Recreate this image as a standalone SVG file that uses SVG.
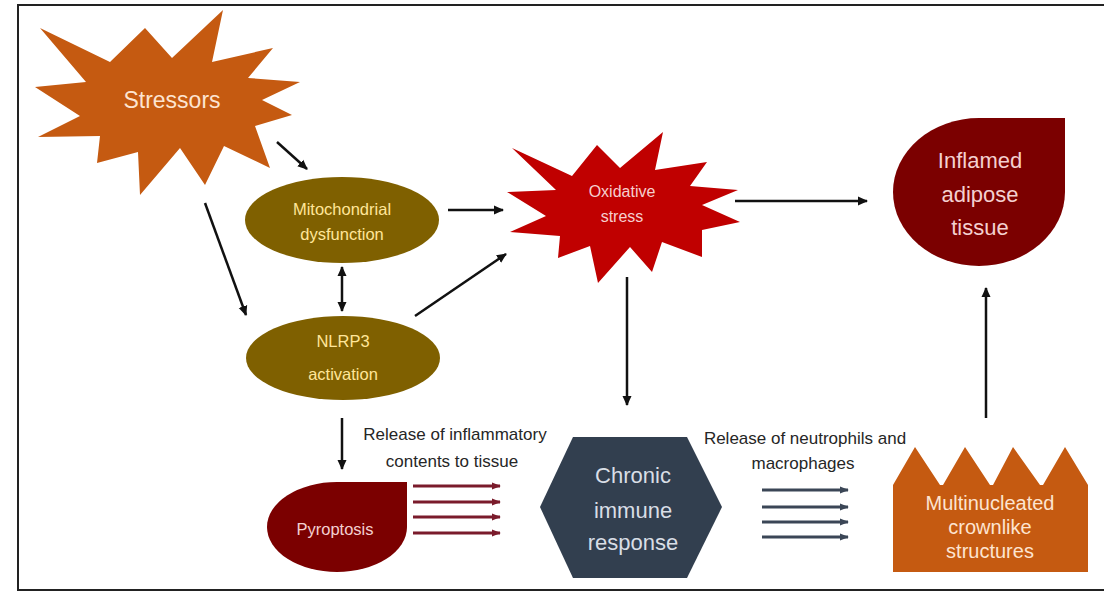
<svg xmlns="http://www.w3.org/2000/svg" width="1104" height="591" viewBox="0 0 1104 591">
<style>
  text { font-family: "Liberation Sans", Arial, sans-serif; text-anchor: middle; }
  .conn { stroke: #111; stroke-width: 2.5; fill: none; marker-end: url(#ah); }
  .red { stroke: #7a1b2b; stroke-width: 3; fill: none; marker-end: url(#ahr); }
  .slate { stroke: #3b4656; stroke-width: 3; fill: none; marker-end: url(#ahs); }
  .lbl { fill: #262626; font-size: 17px; }
  .peach { fill: #fde4d0; }
  .gold { fill: #ffe699; }
</style>
<defs>
  <marker id="ah" viewBox="0 0 10 10" refX="9" refY="5" markerWidth="10" markerHeight="10" markerUnits="userSpaceOnUse" orient="auto-start-reverse">
    <path d="M0,0.5 L10,5 L0,9.5 Z" fill="#111"/>
  </marker>
  <marker id="ahr" viewBox="0 0 10 10" refX="9" refY="5" markerWidth="9" markerHeight="9" markerUnits="userSpaceOnUse" orient="auto">
    <path d="M0,1 L10,5 L0,9 Z" fill="#7a1b2b"/>
  </marker>
  <marker id="ahs" viewBox="0 0 10 10" refX="9" refY="5" markerWidth="9" markerHeight="9" markerUnits="userSpaceOnUse" orient="auto">
    <path d="M0,1 L10,5 L0,9 Z" fill="#3b4656"/>
  </marker>
</defs>
<rect x="0" y="0" width="1104" height="591" fill="#ffffff"/>
<path d="M1104,5 L18,5 L18,590 L1104,590" fill="none" stroke="#222" stroke-width="2"/>

<g id="connectors">
  <line class="conn" x1="277" y1="142" x2="307" y2="169"/>
  <line class="conn" x1="205" y1="203" x2="246" y2="315"/>
  <line class="conn" x1="342" y1="267" x2="342" y2="311" style="marker-start:url(#ah)"/>
  <line class="conn" x1="448" y1="210" x2="503" y2="210"/>
  <line class="conn" x1="415" y1="316" x2="506" y2="254"/>
  <line class="conn" x1="735" y1="201" x2="867" y2="201"/>
  <line class="conn" x1="627" y1="277" x2="627" y2="405"/>
  <line class="conn" x1="342" y1="418" x2="342" y2="469"/>
  <line class="conn" x1="986" y1="418" x2="986" y2="288"/>
  <line class="red" x1="413" y1="486" x2="500" y2="486"/>
  <line class="red" x1="413" y1="502" x2="500" y2="502"/>
  <line class="red" x1="413" y1="517" x2="500" y2="517"/>
  <line class="red" x1="413" y1="533" x2="500" y2="533"/>
  <line class="slate" x1="762" y1="490" x2="848" y2="490"/>
  <line class="slate" x1="762" y1="507" x2="848" y2="507"/>
  <line class="slate" x1="762" y1="522" x2="848" y2="522"/>
  <line class="slate" x1="762" y1="537" x2="848" y2="537"/>
</g>

<g id="stressors">
  <polygon fill="#c55a11" points="40,28 110,62 145,28 172,58 223,10 212,62 273,48 248,78 300,82 262,100 292,115 255,126 270,168 224,146 205,185 180,148 140,195 138,152 97,163 100,136 38,137 80,116 35,87 86,82"/>
  <text class="peach" x="172" y="108" font-size="23">Stressors</text>
</g>

<g id="mitochondrial">
  <ellipse cx="342" cy="220" rx="97" ry="43" fill="#7f6000"/>
  <text class="gold" x="342" y="215" font-size="16.5">Mitochondrial</text>
  <text class="gold" x="342" y="240" font-size="16.5">dysfunction</text>
</g>

<g id="nlrp3">
  <ellipse cx="343" cy="358" rx="97" ry="42" fill="#7f6000"/>
  <text class="gold" x="343" y="347" font-size="16.5">NLRP3</text>
  <text class="gold" x="343" y="380" font-size="16.5">activation</text>
</g>

<g id="oxidative">
  <polygon fill="#c00000" points="512,148 572,176 597,145 620,168 663,132 655,170 707,162 690,186 738,190 702,205 740,222 702,230 702,257 662,242 652,272 630,247 598,283 590,246 558,258 560,236 510,232 546,216 507,192 556,190"/>
  <text fill="#f6cfcf" x="622" y="197" font-size="16">Oxidative</text>
  <text fill="#f6cfcf" x="622" y="222" font-size="16">stress</text>
</g>

<g id="inflamed">
  <path d="M979,118 L1065,118 L1065,192 A86,74 0 1 1 979,118 Z" fill="#7b0000"/>
  <text fill="#f4d0d0" x="980" y="168" font-size="22">Inflamed</text>
  <text fill="#f4d0d0" x="980" y="202" font-size="22">adipose</text>
  <text fill="#f4d0d0" x="980" y="235" font-size="22">tissue</text>
</g>

<g id="pyroptosis">
  <path d="M337,482 L407,482 L407,527 A70,45 0 1 1 337,482 Z" fill="#7b0000"/>
  <text fill="#f4d0d0" x="335" y="535" font-size="16.5">Pyroptosis</text>
</g>

<g id="chronic">
  <polygon fill="#323f4f" points="573,437 687,437 722,507 687,578 573,578 540,507"/>
  <text fill="#d9dee6" x="633" y="483" font-size="22">Chronic</text>
  <text fill="#d9dee6" x="633" y="518" font-size="22">immune</text>
  <text fill="#d9dee6" x="633" y="550" font-size="22">response</text>
</g>

<g id="crown">
  <path d="M893,572 L893,485 L915,447 L940,485 L943,485 L965,447 L990,485 L993,485 L1013,447 L1040,485 L1043,485 L1065,447 L1088,485 L1088,572 Z" fill="#c55a11"/>
  <text class="peach" x="990" y="510" font-size="20">Multinucleated</text>
  <text class="peach" x="990" y="534" font-size="20">crownlike</text>
  <text class="peach" x="990" y="558" font-size="20">structures</text>
</g>

<g id="label-inflammatory">
  <text class="lbl" x="455" y="440">Release of inflammatory</text>
  <text class="lbl" x="452" y="467">contents to tissue</text>
</g>
<g id="label-neutrophils">
  <text class="lbl" x="805" y="444">Release of neutrophils and</text>
  <text class="lbl" x="803" y="469">macrophages</text>
</g>
</svg>
